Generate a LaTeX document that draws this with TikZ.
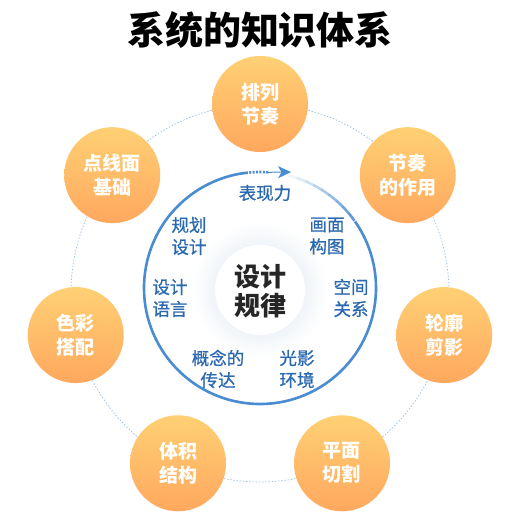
\documentclass[tikz,border=0pt]{standalone}
\usepackage{fontspec}
\newfontfamily\cjk{Noto Sans CJK SC}
\newfontfamily\cjkm[FakeBold=0.7]{Noto Sans CJK SC}
\usetikzlibrary{arrows.meta,calc}
\definecolor{oTop}{HTML}{FFD074}
\definecolor{oBot}{HTML}{FFA85E}
\definecolor{ringblue}{HTML}{4A8CD2}
\definecolor{txtblue}{HTML}{2A68B0}
\definecolor{dotblue}{HTML}{9DC2E6}
\definecolor{glow}{HTML}{D3DEEA}
\tikzset{
  orb/.style={circle, minimum size=96pt, inner sep=0pt, text=white, font=\cjk\bfseries\fontsize{19}{24}\selectfont, align=center},
  inlabel/.style={text=txtblue, font=\cjkm\fontsize{17.5}{22}\selectfont, align=center, inner sep=1pt},
  ring/.style={ringblue, line width=2.6pt},
}
\begin{document}
\begin{tikzpicture}[x=1pt,y=1pt]
\useasboundingbox (0,0) rectangle (520,520);
\fill[white] (0,0) rectangle (520,520);
\coordinate (oc) at (260,227);
\coordinate (ic) at (260,232);
% title
\node (title) at (260,490) {\cjk\bfseries\fontsize{38}{40}\selectfont 系统的知识体系};
% outer dotted circle
\draw[dotblue, line width=0.7pt, dash pattern=on 1.6pt off 1.6pt] (oc) circle (189);
% orange circles
\foreach \a/\t/\n in {90/排列\\节奏/o1, 38.57/节奏\\的作用/o2, -12.86/轮廓\\剪影/o3, -64.29/平面\\切割/o4, -115.71/体积\\结构/o5, 192.86/色彩\\搭配/o6, 141.43/点线面\\基础/o7}{
  \shade[top color=oTop, bottom color=oBot] ($(oc)+(\a:189)$) circle (48);
  \node[orb] (\n) at ($(oc)+(\a:189)$) {\t};
}
% center glow
\shade[inner color=glow, outer color=white] (260,230) circle (68);
\fill[white] (260,230) circle (45);
\node[circle, minimum size=90pt, inner sep=0pt, align=center, text=black!85, font=\cjk\bfseries\fontsize{26}{29}\selectfont] (center) at (260,229) {设计\\规律};
% blue ring
\draw[ring] ($(ic)+(35:116)$) arc[start angle=35, end angle=-263, radius=116];
\foreach \k in {0,...,8}{
  \pgfmathsetmacro{\sa}{76-4.5*\k}
  \pgfmathsetmacro{\ea}{76-4.5*\k-4.6}
  \pgfmathsetmacro{\op}{0.08+0.1*\k}
  \draw[ring, opacity=\op] ($(ic)+(\sa:116)$) arc[start angle=\sa, end angle=\ea, radius=116];
}
\draw[ringblue, line width=2.6pt, dash pattern=on 2pt off 1.4pt] ($(ic)+(97:116)$) arc[start angle=97, end angle=86, radius=116];
\coordinate (ahs) at ($(ic)+(86:116)$);
\coordinate (ahe) at ($(ic)+(75:120)$);
\draw[ringblue, line width=1pt, -{Stealth[length=13pt,width=12pt,inset=3.5pt]}] (ahs) -- (ahe);
% inner labels
\node[inlabel] (l1) at (265,327) {表现力};
\node[inlabel] (l2) at (189,284) {规划\\设计};
\node[inlabel] (l3) at (327,284) {画面\\构图};
\node[inlabel] (l4) at (170,222) {设计\\语言};
\node[inlabel] (l5) at (351,222) {空间\\关系};
\node[inlabel] (l6) at (218,151) {概念的\\传达};
\node[inlabel] (l7) at (297,151) {光影\\环境};
\end{tikzpicture}
\end{document}
